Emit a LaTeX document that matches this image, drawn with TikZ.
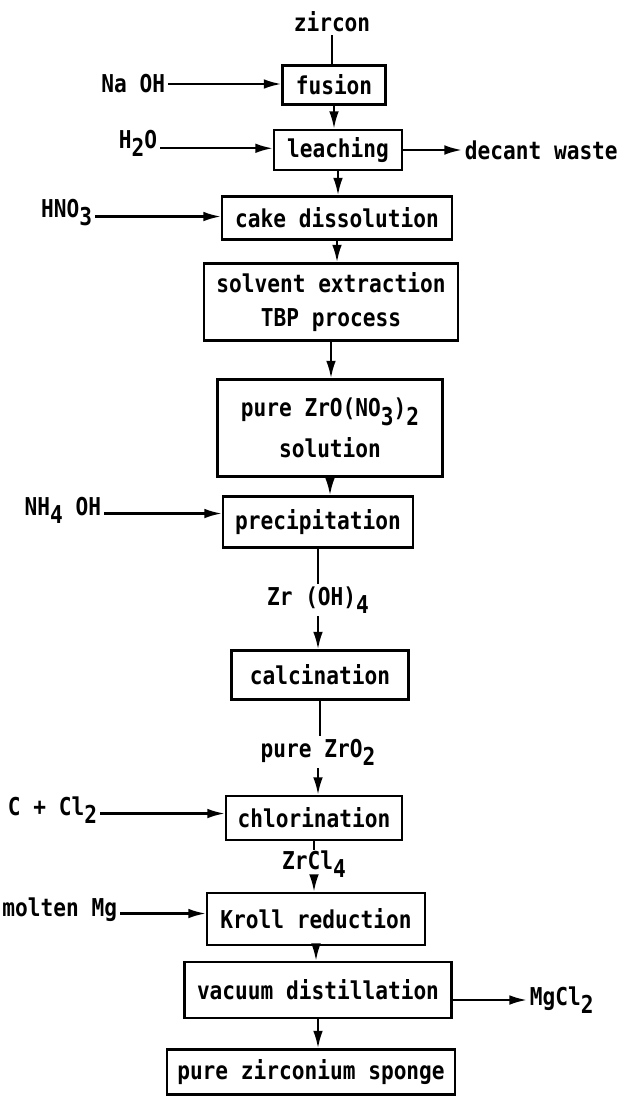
\documentclass[tikz,border=0pt]{standalone}
\usepackage{fontspec}
\setmainfont{DejaVu Sans Mono}[FakeStretch=0.86]
\usetikzlibrary{shapes,arrows.meta}
\newcommand{\chemsub}[1]{\raisebox{-0.6ex}{#1}}

\begin{document}
\begin{tikzpicture}[x=0.02cm, y=-0.02cm, line width=1.3pt,
        every node/.style={font=\bfseries\fontsize{14}{17}\selectfont},
        stepbox/.style={rectangle, draw = black, inner sep=2pt, align=center},
        feed/.style={inner sep=1pt},
        >={Latex[length=10pt,width=5.5pt]}]
    \useasboundingbox (0,0) rectangle (630,1102);

    % main chain
    \node (zr)[feed] at (332,22) {zircon};
    \node (fus)[stepbox, minimum width=2.06cm, minimum height=0.78cm] at (334,85) {fusion};
    \node (lea)[stepbox, minimum width=2.56cm, minimum height=0.8cm] at (338,150) {leaching};
    \node (cak)[stepbox, minimum width=4.6cm, minimum height=0.86cm] at (337,218) {cake dissolution};
    \node (sol)[stepbox, minimum width=5.08cm, minimum height=1.54cm, font=\bfseries\fontsize{14}{19}\selectfont] at (331,302) {solvent extraction\\TBP process};
    \node (pur)[stepbox, minimum width=4.5cm, minimum height=1.94cm] at (330,428) {pure ZrO(NO\chemsub{3})\chemsub{2}\\[6pt]solution};
    \node (pre)[stepbox, minimum width=3.8cm, minimum height=1.02cm] at (318,522) {precipitation};
    \node (zroh)[feed] at (318,600) {Zr (OH)\chemsub{4}};
    \node (cal)[stepbox, minimum width=3.54cm, minimum height=0.98cm] at (320,675) {calcination};
    \node (pzr)[feed] at (318,752) {pure ZrO\chemsub{2}};
    \node (chl)[stepbox, minimum width=3.52cm, minimum height=0.88cm] at (314,818) {chlorination};
    \node (zrcl)[feed] at (314,864) {ZrCl\chemsub{4}};
    \node (kro)[stepbox, minimum width=4.36cm, minimum height=1.04cm] at (316,919) {Kroll reduction};
    \node (vac)[stepbox, minimum width=5.34cm, minimum height=1.12cm] at (318,990) {vacuum distillation};
    \node (spo)[stepbox, minimum width=5.76cm, minimum height=0.9cm] at (311,1072) {pure zirconium sponge};

    % feeds and outputs
    \node (naoh)[feed, anchor=east] at (168,84) {Na OH};
    \node (h2o)[feed, anchor=east] at (160,143) {H\chemsub{2}O};
    \node (hno)[feed, anchor=east] at (95,213) {HNO\chemsub{3}};
    \node (nh4)[feed, anchor=east] at (104,510) {NH\chemsub{4} OH};
    \node (ccl)[feed, anchor=east] at (100,810) {C + Cl\chemsub{2}};
    \node (mg)[feed, anchor=east] at (120,910) {molten Mg};
    \node (dec)[feed, anchor=west] at (462,150) {decant waste};
    \node (mgcl)[feed, anchor=west] at (527,1000) {MgCl\chemsub{2}};

    \draw (zr.south) -- (zr.south |- fus.north);
    \draw[->] (fus.south) -- (fus.south |- lea.north);
    \draw[->] (lea.south) -- (lea.south |- cak.north);
    \draw[->] (cak.south) -- (cak.south |- sol.north);
    \draw[->] (sol.south) -- (sol.south |- pur.north);
    \draw[->] (pur.south) -- (pur.south |- pre.north);
    \draw (pre.south) -- (pre.south |- zroh.north);
    \draw[->] (zroh.south) -- (zroh.south |- cal.north);
    \draw (cal.south) -- (cal.south |- pzr.north);
    \draw[->] (pzr.south) -- (pzr.south |- chl.north);
    \draw (chl.south) -- ([yshift=-5pt]chl.south);
    \draw[->] (zrcl.south) -- (zrcl.south |- kro.north);
    \draw[->] (kro.south) -- (kro.south |- vac.north);
    \draw[->] (vac.south) -- (vac.south |- spo.north);

    \draw[->] (naoh.east) -- (naoh.east -| fus.west);
    \draw[->] ([yshift=-3pt]h2o.east) -- ([yshift=-3pt]h2o.east -| lea.west);
    \draw[->] ([yshift=-2pt]hno.east) -- ([yshift=-2pt]hno.east -| cak.west);
    \draw[->] ([yshift=-2pt]nh4.east) -- ([yshift=-2pt]nh4.east -| pre.west);
    \draw[->] ([yshift=-2pt]ccl.east) -- ([yshift=-2pt]ccl.east -| chl.west);
    \draw[->] ([yshift=-2pt]mg.east) -- ([yshift=-2pt]mg.east -| kro.west);
    \draw[->] (lea.east |- dec.west) -- (dec.west);
    \draw[->] (vac.east |- mgcl.west) -- (mgcl.west);
\end{tikzpicture}
\end{document}
